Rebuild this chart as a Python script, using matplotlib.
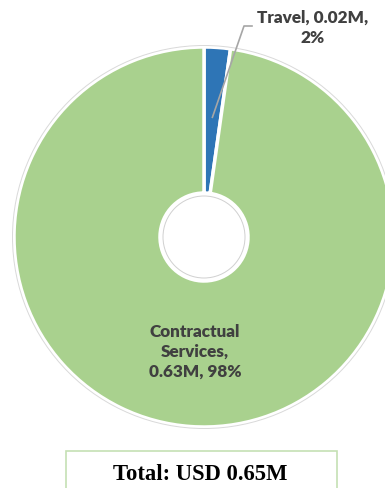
import numpy as np
import matplotlib.pyplot as plt
from matplotlib.patches import Rectangle, Circle

categories = ['Travel', 'Contractual Services']
values = [0.0145, 0.6355]
amount_labels = ['0.02M', '0.63M']
pct_labels = ['2%', '98%']
total_label = 'Total: USD 0.65M'
colors = ['#2e75b6', '#a9d18e']

W, H = 385, 488
fig = plt.figure(figsize=(W / 100, H / 100), dpi=100)
ax = fig.add_axes([0, 0, 1, 1])

cx, cy, r = 204, H - 237, 190
hole = 44

wedges, _ = ax.pie(values, colors=colors, startangle=90, counterclock=False,
                   center=(cx, cy), radius=r, frame=True,
                   wedgeprops=dict(width=r - hole, edgecolor='white', linewidth=2.5))
ax.set_xlim(0, W)
ax.set_ylim(0, H)
ax.set_aspect('equal')
ax.axis('off')
ax.add_patch(Circle((cx, cy), r + 1.5, fill=False, edgecolor='#d9d9d9', lw=0.7))
ax.add_patch(Circle((cx, cy), hole - 3, fill=False, edgecolor='#d0d0d0', lw=0.7))

txt = dict(fontfamily='Lato', fontweight='heavy', color='#404040', fontsize=12.3)

# Travel label with leader line
w = wedges[0]
mid = np.deg2rad((w.theta1 + w.theta2) / 2)
px, py = cx + 120 * np.cos(mid), cy + 120 * np.sin(mid)
ax.plot([px, 244, 252], [py, H - 26, H - 26], color='#a6a6a6', lw=1.2)
ax.text(313, H - 28, f'{categories[0]}, {amount_labels[0]},\n{pct_labels[0]}',
        ha='center', va='center', linespacing=1.3, **txt)

# Contractual label inside slice
ax.text(195, H - 352, f'Contractual\nServices,\n{amount_labels[1]}, {pct_labels[1]}',
        ha='center', va='center', linespacing=1.3, **txt)

# total box
ax.add_patch(Rectangle((66, H - 492), 271, 41, fill=False, edgecolor='#c5e0b4', lw=1.2))
ax.text(200, H - 474, total_label, ha='center', va='center',
        fontfamily='Liberation Serif', fontweight='bold', fontsize=16.3, color='black')

fig.savefig('out.png', dpi=100)
